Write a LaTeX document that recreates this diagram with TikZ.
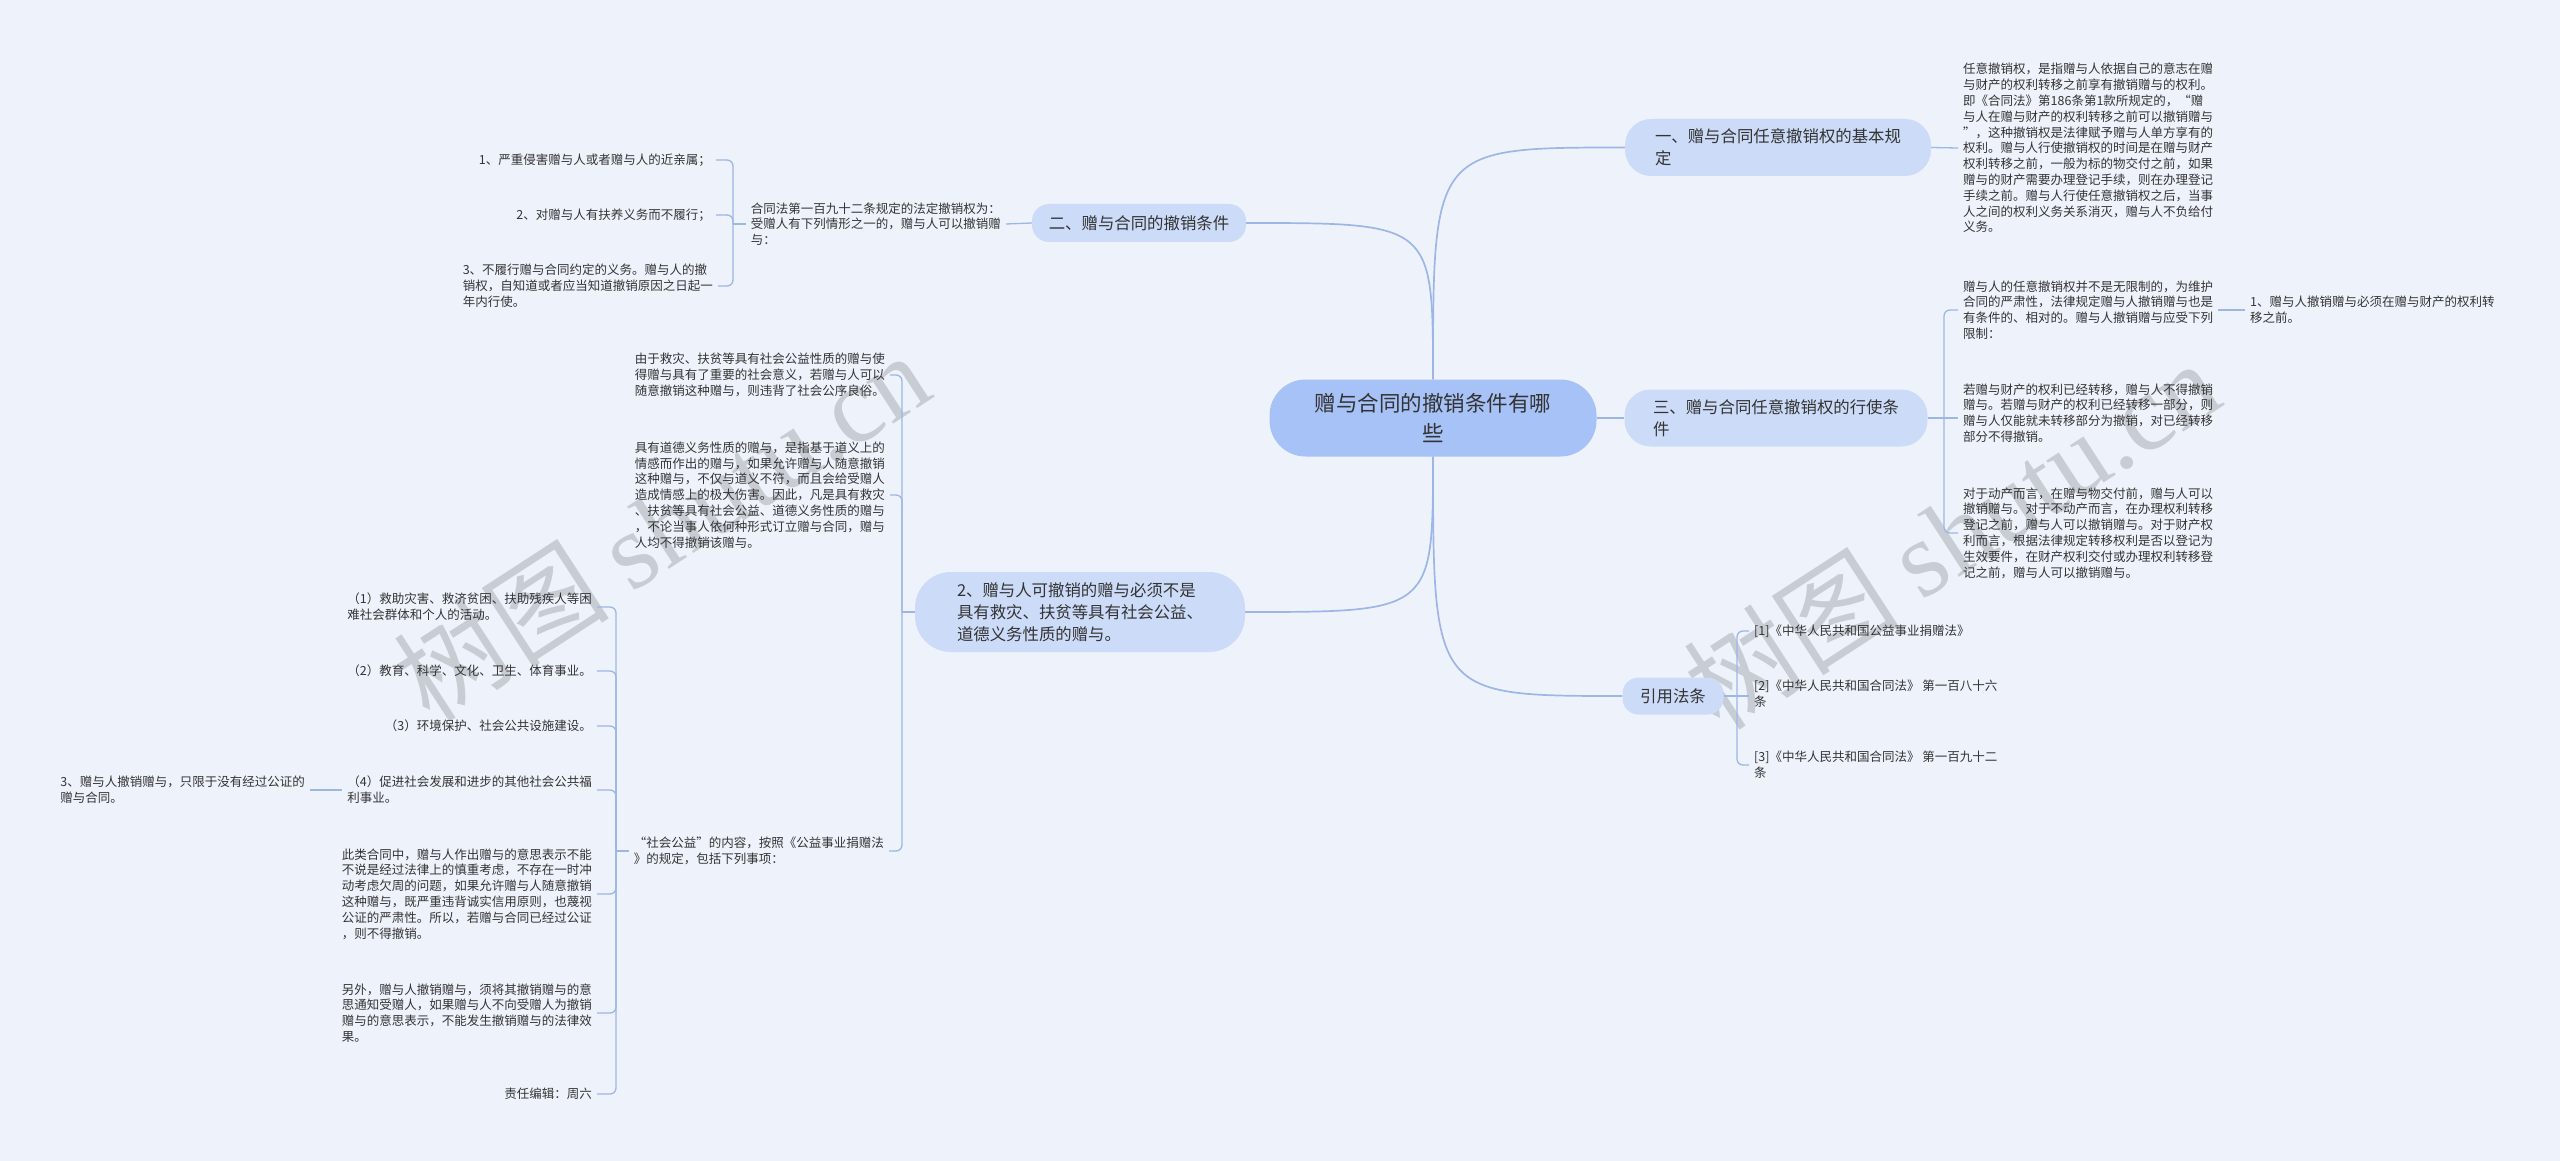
\documentclass[tikz,border=0pt]{standalone}
\usepackage{fontspec}
\setmainfont{Noto Sans CJK SC}
\newfontfamily\wmserif{Liberation Serif}
\usetikzlibrary{calc}
\definecolor{bgc}{HTML}{EEF3FB}
\definecolor{rootc}{HTML}{A7C2F7}
\definecolor{brc}{HTML}{CCDBF8}
\definecolor{linec}{HTML}{9CB6E8}
\definecolor{txtc}{HTML}{333333}
\definecolor{wmc}{HTML}{C8CCD3}
\pgfdeclarelayer{bg}
\pgfdeclarelayer{lines}
\pgfsetlayers{bg,lines,main}
\begin{document}
\begin{tikzpicture}[x=1pt,y=-1pt,
  rootbox/.style={fill=rootc, rounded corners=36pt, minimum width=327pt, minimum height=77pt, align=center, text=txtc, font=\fontsize{21.5}{30}\selectfont, inner sep=0pt},
  brbox/.style={fill=brc, align=left, text=txtc, font=\fontsize{16.4}{22}\selectfont, inner sep=0pt},
  leaf/.style={align=left, text=txtc, font=\fontsize{12.5}{15.8}\selectfont, inner xsep=5pt, inner ysep=1pt},
  leafr/.style={leaf, align=right},
  wmark/.style={rotate=33, text=wmc, font=\fontsize{108}{108}\selectfont, inner sep=0pt},
  mainline/.style={draw=linec, line width=1.7pt},
  subline/.style={draw=linec, line width=1.3pt, rounded corners=6pt},
]
\begin{pgfonlayer}{bg}
\fill[bgc] (0,0) rectangle (2560,1161);
\node[wmark] (wm1) at (661,526) {树图 {\wmserif shutu.cn}};
\node[wmark] (wm2) at (1951,534) {树图 {\wmserif shutu.cn}};
\end{pgfonlayer}
\useasboundingbox (0,0) rectangle (2560,1161);

% root and main branches
\node[rootbox] (root) at (1433,418) {赠与合同的撤销条件有哪\\些};
\node[brbox, rounded corners=26pt, minimum width=306pt, minimum height=57pt] (b1) at (1778,147.5) {一、赠与合同任意撤销权的基本规\\定};
\node[brbox, rounded corners=26pt, minimum width=303pt, minimum height=57pt] (b3) at (1776,418) {三、赠与合同任意撤销权的行使条\\件};
\node[brbox, rounded corners=16pt, minimum width=101pt, minimum height=37pt] (b4) at (1673,696) {引用法条};
\node[brbox, rounded corners=17pt, minimum width=214pt, minimum height=38pt] (b2) at (1139,223) {二、赠与合同的撤销条件};
\node[brbox, rounded corners=36pt, minimum width=330pt, minimum height=80pt] (b5) at (1080,612) {2、赠与人可撤销的赠与必须不是\\具有救灾、扶贫等具有社会公益、\\道德义务性质的赠与。};

% right leaves
\node[leaf, anchor=west] (t1) at (1958,148) {任意撤销权，是指赠与人依据自己的意志在赠\\与财产的权利转移之前享有撤销赠与的权利。\\即《合同法》第186条第1款所规定的，“赠\\与人在赠与财产的权利转移之前可以撤销赠与\\”，这种撤销权是法律赋予赠与人单方享有的\\权利。赠与人行使撤销权的时间是在赠与财产\\权利转移之前，一般为标的物交付之前，如果\\赠与的财产需要办理登记手续，则在办理登记\\手续之前。赠与人行使任意撤销权之后，当事\\人之间的权利义务关系消灭，赠与人不负给付\\义务。};
\node[leaf, anchor=west] (c31) at (1958,310) {赠与人的任意撤销权并不是无限制的，为维护\\合同的严肃性，法律规定赠与人撤销赠与也是\\有条件的、相对的。赠与人撤销赠与应受下列\\限制：};
\node[leaf, anchor=west] (c32) at (1958,413) {若赠与财产的权利已经转移，赠与人不得撤销\\赠与。若赠与财产的权利已经转移一部分，则\\赠与人仅能就未转移部分为撤销，对已经转移\\部分不得撤销。};
\node[leaf, anchor=west] (c33) at (1958,533) {对于动产而言，在赠与物交付前，赠与人可以\\撤销赠与。对于不动产而言，在办理权利转移\\登记之前，赠与人可以撤销赠与。对于财产权\\利而言，根据法律规定转移权利是否以登记为\\生效要件，在财产权利交付或办理权利转移登\\记之前，赠与人可以撤销赠与。};
\node[leaf, anchor=west] (c31a) at (2245,310) {1、赠与人撤销赠与必须在赠与财产的权利转\\移之前。};
\node[leaf, anchor=west] (r1) at (1749,631) {[1]《中华人民共和国公益事业捐赠法》};
\node[leaf, anchor=west] (r2) at (1749,694) {[2]《中华人民共和国合同法》 第一百八十六\\条};
\node[leaf, anchor=west] (r3) at (1749,765) {[3]《中华人民共和国合同法》 第一百九十二\\条};

% left leaves: branch 二
\node[leaf, anchor=east] (t2) at (1006,224) {合同法第一百九十二条规定的法定撤销权为：\\受赠人有下列情形之一的，赠与人可以撤销赠\\与：};
\node[leafr, anchor=east] (g1) at (716,160) {1、严重侵害赠与人或者赠与人的近亲属；};
\node[leafr, anchor=east] (g2) at (716,215) {2、对赠与人有扶养义务而不履行；};
\node[leaf, anchor=east] (g3) at (718,286) {3、不履行赠与合同约定的义务。赠与人的撤\\销权，自知道或者应当知道撤销原因之日起一\\年内行使。};

% left leaves: branch 2、
\node[leaf, anchor=east] (la) at (890,375) {由于救灾、扶贫等具有社会公益性质的赠与使\\得赠与具有了重要的社会意义，若赠与人可以\\随意撤销这种赠与，则违背了社会公序良俗。};
\node[leaf, anchor=east] (lb) at (890,495) {具有道德义务性质的赠与，是指基于道义上的\\情感而作出的赠与，如果允许赠与人随意撤销\\这种赠与，不仅与道义不符，而且会给受赠人\\造成情感上的极大伤害。因此，凡是具有救灾\\、扶贫等具有社会公益、道德义务性质的赠与\\，不论当事人依何种形式订立赠与合同，赠与\\人均不得撤销该赠与。};
\node[leaf, anchor=east] (lc) at (889,851) {“社会公益”的内容，按照《公益事业捐赠法\\》的规定，包括下列事项：};

\node[leaf, anchor=east] (k1) at (597,607) {（1）救助灾害、救济贫困、扶助残疾人等困\\难社会群体和个人的活动。};
\node[leafr, anchor=east] (k2) at (597,671) {（2）教育、科学、文化、卫生、体育事业。};
\node[leafr, anchor=east] (k3) at (597,726) {（3）环境保护、社会公共设施建设。};
\node[leaf, anchor=east] (k4) at (597,790) {（4）促进社会发展和进步的其他社会公共福\\利事业。};
\node[leaf, anchor=east] (kd) at (597,894) {此类合同中，赠与人作出赠与的意思表示不能\\不说是经过法律上的慎重考虑，不存在一时冲\\动考虑欠周的问题，如果允许赠与人随意撤销\\这种赠与，既严重违背诚实信用原则，也蔑视\\公证的严肃性。所以，若赠与合同已经过公证\\，则不得撤销。};
\node[leaf, anchor=east] (ke) at (597,1013) {另外，赠与人撤销赠与，须将其撤销赠与的意\\思通知受赠人，如果赠与人不向受赠人为撤销\\赠与的意思表示，不能发生撤销赠与的法律效\\果。};
\node[leafr, anchor=east] (kf) at (597,1094) {责任编辑：周六};
\node[leaf, anchor=east] (k4c) at (310,790) {3、赠与人撤销赠与，只限于没有经过公证的\\赠与合同。};

% connectors
\coordinate (J3) at (1944,418);
\coordinate (J4) at (1737,696);
\coordinate (J2) at (733,224);
\coordinate (J5) at (902,612);
\coordinate (JC) at (616,851);
\begin{pgfonlayer}{lines}
\draw[mainline] (root.north) .. controls (root.north |- b1.west) .. (b1.west);
\draw[mainline] (root.east) -- (b3.west);
\draw[mainline] (root.south) .. controls (root.south |- b4.west) .. (b4.west);
\draw[mainline] (root.north) .. controls (root.north |- b2.east) .. (b2.east);
\draw[mainline] (root.south) .. controls (root.south |- b5.east) .. (b5.east);

\draw[subline] (b1.east) -- (t1.west);
\draw[subline] (b3.east) -- (J3);
\draw[subline] (J3) |- (c31.west);
\draw[subline] (J3) -- (J3 -| c32.west);
\draw[subline] (J3) |- (c33.west);
\draw[subline] (c31.east) -- (c31a.west);

\draw[subline] (b4.east) -- (J4);
\draw[subline] (J4) |- (r1.west);
\draw[subline] (J4) -- (J4 -| r2.west);
\draw[subline] (J4) |- (r3.west);

\draw[subline] (b2.west) -- (t2.east);
\draw[subline] (t2.west) -- (J2);
\draw[subline] (J2) |- (g1.east);
\draw[subline] (J2) |- (g2.east);
\draw[subline] (J2) |- (g3.east);

\draw[subline] (b5.west) -- (J5);
\draw[subline] (J5) |- (la.east);
\draw[subline] (J5) |- (lb.east);
\draw[subline] (J5) |- (lc.east);

\draw[subline] (lc.west) -- (JC);
\foreach \n in {k1,k2,k3,k4,kd,ke,kf} \draw[subline] (JC) |- (\n.east);
\draw[subline] (k4.west) -- (k4c.east);
\end{pgfonlayer}
\end{tikzpicture}
\end{document}
